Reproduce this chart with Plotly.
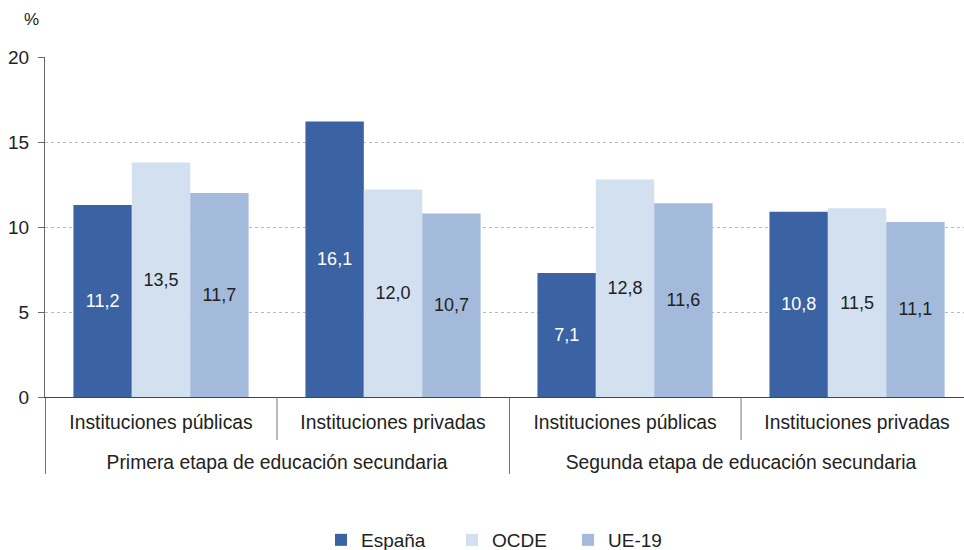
import plotly.graph_objects as go

stage_names = ["Primera etapa de educación secundaria", "Segunda etapa de educación secundaria"]
institution_names = ["Instituciones públicas", "Instituciones privadas"]
stages = [s for s in stage_names for _ in institution_names]
institutions = institution_names * len(stage_names)

series_names = ["España", "OCDE", "UE-19"]
# bar heights as drawn in the picture
espana = [11.3, 16.2, 7.3, 10.9]
ocde = [13.8, 12.2, 12.8, 11.1]
ue19 = [12.0, 10.8, 11.4, 10.3]
# value labels printed on the bars
espana_labels = ["11,2", "16,1", "7,1", "10,8"]
ocde_labels = ["13,5", "12,0", "12,8", "11,5"]
ue19_labels = ["11,7", "10,7", "11,6", "11,1"]
y_ticks = [0, 5, 10, 15, 20]

colors = ["#3b63a4", "#d2e0f0", "#a4badb"]
text_colors = ["#ffffff", "#222222", "#222222"]
legends = ["legend", "legend2", "legend3"]
legend_x = [321, 452, 568]  # px from left of the page

FONT = "Liberation Sans, Arial, sans-serif"
W, H = 964, 550
ML, MR, MT, MB = 45, 0, 57, 153
XRANGE = [-0.5, 3.461]

# outer level shown one line lower (blank first line)
stages_disp = ["<br>" + s for s in stages]

fig = go.Figure()
for name, vals, labs, col, tcol, lg in zip(series_names, [espana, ocde, ue19],
                                          [espana_labels, ocde_labels, ue19_labels],
                                          colors, text_colors, legends):
    fig.add_trace(go.Bar(
        x=[stages_disp, institutions], y=vals, name=name, text=labs,
        textposition="inside", insidetextanchor="middle", textangle=0,
        constraintext="none",
        textfont=dict(family=FONT, size=18, color=tcol),
        marker=dict(color=col, line=dict(width=0)),
        legend=lg, showlegend=True, hoverinfo="y+name",
    ))

leg_common = dict(orientation="h", yanchor="middle", xanchor="left",
                  xref="container", yref="container", y=10 / H,
                  font=dict(family=FONT, size=19, color="#222222"),
                  bgcolor="rgba(0,0,0,0)", borderwidth=0)

# separators between the inner categories (axis decoration)
span = XRANGE[1] - XRANGE[0]
shapes = []
for b in [0.5, 2.5]:
    xd = (b - XRANGE[0]) / span
    shapes.append(dict(type="line", xref="x domain", yref="y domain",
                       x0=xd, x1=xd, y0=0, y1=-43 / (H - MT - MB),
                       line=dict(color="#777777", width=1)))

fig.update_layout(
    width=W, height=H,
    margin=dict(l=ML, r=MR, t=MT, b=MB),
    paper_bgcolor="white", plot_bgcolor="white",
    barmode="group", bargap=0.245, bargroupgap=0,
    font=dict(family=FONT, size=18, color="#222222"),
    showlegend=True,
    legend=dict(x=legend_x[0] / W, **leg_common),
    legend2=dict(x=legend_x[1] / W, **leg_common),
    legend3=dict(x=legend_x[2] / W, **leg_common),
    xaxis=dict(
        type="multicategory", range=XRANGE, automargin=False,
        showline=True, linecolor="#444444", linewidth=1,
        showdividers=True, dividercolor="#777777", dividerwidth=1,
        tickfont=dict(family=FONT, size=19.3, color="#222222"),
        ticks="", showgrid=False, ticklabelstandoff=8,
    ),
    yaxis=dict(
        range=[0, 20], tickvals=y_ticks, automargin=False,
        showline=True, linecolor="#666666", linewidth=1,
        ticks="outside", ticklen=6, tickcolor="#666666",
        showgrid=True, gridcolor="#bbbbbb", griddash="dot", gridwidth=1,
        zeroline=False, ticklabelstandoff=5,
        tickfont=dict(family=FONT, size=19, color="#222222"),
    ),
    shapes=shapes,
    annotations=[dict(text="%", xref="paper", yref="paper",
                      x=(31 - ML) / (W - ML - MR), y=(H - MB - 20) / (H - MT - MB),
                      showarrow=False, xanchor="center", yanchor="middle",
                      font=dict(family=FONT, size=17, color="#222222"))],
)

fig.write_html("out.html", config={"displayModeBar": False},
               post_script="document.body.style.margin='0';document.body.style.overflow='hidden';")
